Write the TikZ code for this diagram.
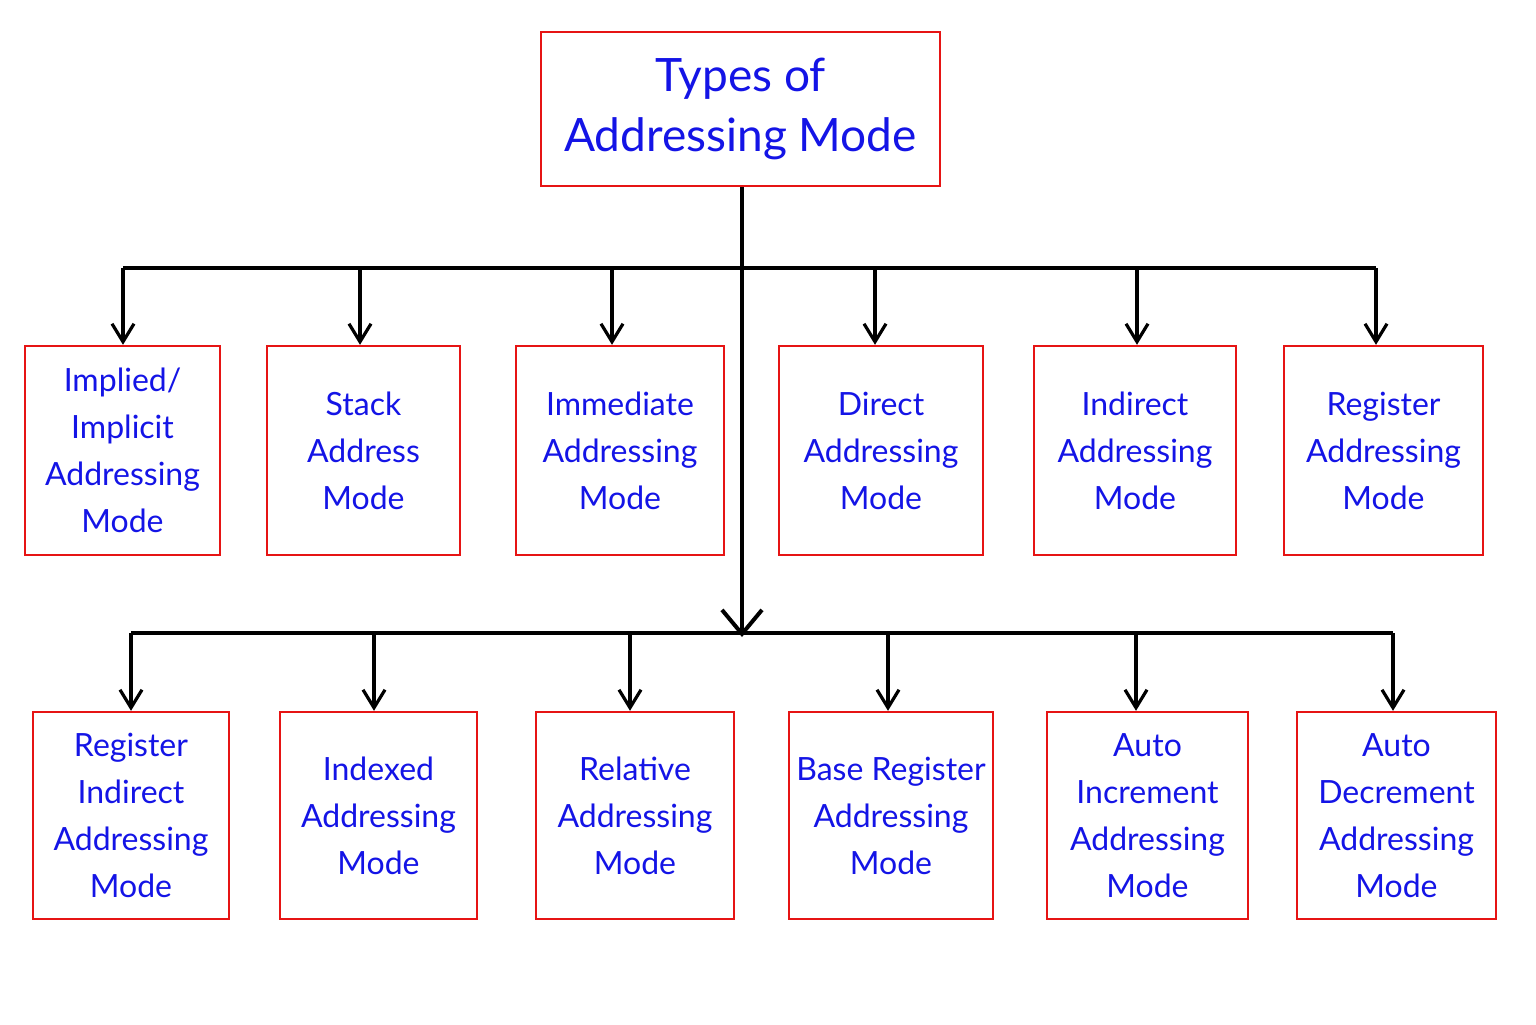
\documentclass[tikz,border=0pt]{standalone}
\usepackage{fontspec}
\setmainfont{Lato}
\usetikzlibrary{arrows.meta}
\definecolor{txt}{RGB}{20,20,230}
\definecolor{brd}{RGB}{230,20,20}
\begin{document}
\begin{tikzpicture}[x=0.5pt,y=-0.5pt,
  box/.style={draw=brd,line width=1.2pt,text=txt,align=center,inner sep=0pt,font=\fontsize{16}{23.5}\selectfont},
  conn/.style={line width=1.6pt,-{Straight Barb[length=9pt,width=11pt,line width=1.6pt]}},
  bus/.style={line width=1.6pt}]
\useasboundingbox[fill=white] (0,0) rectangle (1536,1024);
\newcommand\bx[6]{\node[box,minimum width=#4*0.5pt-#2*0.5pt,minimum height=#5*0.5pt-#3*0.5pt] (#1) at ({(#2+#4)/2},{(#3+#5)/2}) {#6};}
\node[box,minimum width=199.5pt,minimum height=77pt,font=\fontsize{23}{30}\selectfont] (top) at (740.5,109) {Types of\\Addressing Mode};
\bx{a1}{25}{346}{220}{555}{Implied/\\Implicit\\Addressing\\Mode}
\bx{a2}{267}{346}{460}{555}{Stack\\Address\\Mode}
\bx{a3}{516}{346}{724}{555}{Immediate\\Addressing\\Mode}
\bx{a4}{779}{346}{983}{555}{Direct\\Addressing\\Mode}
\bx{a5}{1034}{346}{1236}{555}{Indirect\\Addressing\\Mode}
\bx{a6}{1284}{346}{1483}{555}{Register\\Addressing\\Mode}
\bx{b1}{33}{712}{229}{919}{Register\\Indirect\\Addressing\\Mode}
\bx{b2}{280}{712}{477}{919}{Indexed\\Addressing\\Mode}
\bx{b3}{536}{712}{734}{919}{Relative\\Addressing\\Mode}
\bx{b4}{789}{712}{993}{919}{Base Register\\Addressing\\Mode}
\bx{b5}{1047}{712}{1248}{919}{Auto\\Increment\\Addressing\\Mode}
\bx{b6}{1297}{712}{1496}{919}{Auto\\Decrement\\Addressing\\Mode}
\coordinate (j1) at (742,268);
\coordinate (j2) at (742,637);
\coordinate (l1) at (123,268); \coordinate (r1) at (1376,268);
\coordinate (l2) at (131,633); \coordinate (r2) at (1393,633);
\draw[bus] (top.south -| j1) -- (j1);
\draw[bus] (l1) -- (r1);
\draw[bus] (l2) -- (r2);
\draw[line width=2pt,-{Straight Barb[length=12pt,width=20pt,line width=2pt]}] (j1) -- (j2);
\foreach \n/\x in {a1/123,a2/360,a3/612,a4/875,a5/1137,a6/1376}
  \draw[conn] (\x,268) -- (\n.north -| {(\x,0)});
\foreach \n/\x in {b1/131,b2/374,b3/630,b4/888,b5/1136,b6/1393}
  \draw[conn] (\x,633) -- (\n.north -| {(\x,0)});
\end{tikzpicture}
\end{document}
